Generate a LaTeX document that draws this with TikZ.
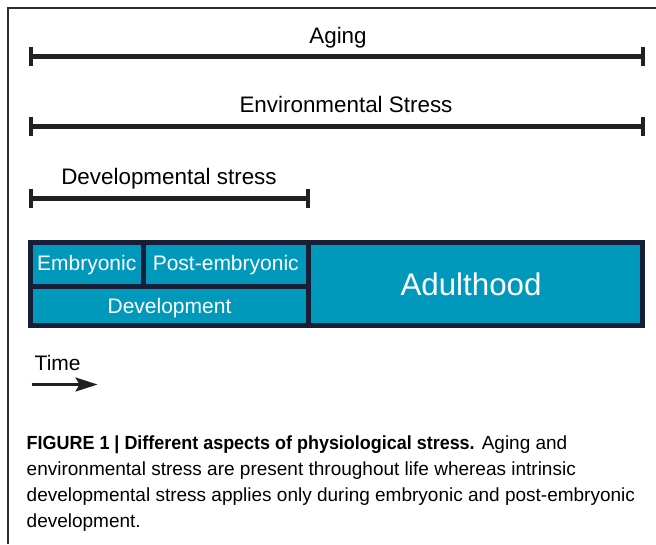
\documentclass[tikz,border=0pt]{standalone}
\usepackage{fontspec}
\setmainfont{Liberation Sans}
\usetikzlibrary{arrows.meta}

\definecolor{barink}{RGB}{35,31,32}
\definecolor{stageteal}{RGB}{0,153,188}
\definecolor{stagenavy}{RGB}{22,30,56}
\definecolor{frameink}{RGB}{45,45,45}

\begin{document}
\begin{tikzpicture}[x=1pt,y=-1pt,
  spanbar/.style={draw=barink, line width=5pt},
  spantick/.style={draw=barink, line width=4.5pt},
  spanlabel/.style={anchor=base, inner sep=0pt, text=black,
    font=\fontsize{22.4}{26}\selectfont},
  stagecell/.style={fill=stageteal, draw=none, inner sep=0pt, text=white,
    font=\fontsize{21}{24}\selectfont},
  captionline/.style={anchor=base west, inner sep=0pt, text=black,
    font=\fontsize{19}{26}\selectfont},
  framerule/.style={draw=frameink, line width=1.2pt}
]
% canvas
\useasboundingbox (0,0) rectangle (656,544);
\fill[white] (0,0) rectangle (656,544);
\draw[framerule] (8,544) -- (8,8) -- (656,8);

% spans over the life course
\coordinate (agingL) at (31,56.5);  \coordinate (agingR) at (643,56.5);
\coordinate (envL)   at (31,126.7); \coordinate (envR)   at (643,126.7);
\coordinate (devL)   at (31,198.5); \coordinate (devR)   at (308,198.5);
\foreach \s in {aging,env,dev}{
  \draw[spanbar] (\s L) -- (\s R);
  \draw[spantick] ([yshift=9.5pt]\s L) -- ([yshift=-9.5pt]\s L);
  \draw[spantick] ([yshift=9.5pt]\s R) -- ([yshift=-9.5pt]\s R);
}
\node[spanlabel] (aginglabel) at (338,43) {Aging};
\node[spanlabel] (envlabel) at (346,112) {Environmental Stress};
\node[spanlabel] (devlabel) at (169,184) {Developmental stress};

% life stages
\node[fill=stagenavy, inner sep=0pt, minimum width=617pt, minimum height=88pt]
  (stagebox) at (336.5,284) {};
\node[stagecell, minimum width=107.5pt, minimum height=38.5pt,
  text height=15.5pt, text depth=4pt] (embryonic) at (86.75,264.25) {Embryonic};
\node[stagecell, minimum width=160.5pt, minimum height=38.5pt,
  text height=15.5pt, text depth=4pt] (postembryonic) at (225.75,264.25) {Post-embryonic};
\node[stagecell, minimum width=273pt, minimum height=34.5pt,
  text height=17pt, text depth=2pt] (development) at (169.5,305.75) {Development};
\node[stagecell, minimum width=329pt, minimum height=78pt,
  text height=26pt, text depth=4pt, font=\fontsize{31.3}{36}\selectfont]
  (adulthood) at (475.5,284) {Adulthood\hspace*{9pt}};

% time direction
\node[anchor=base west, inner sep=0pt, font=\fontsize{21}{24}\selectfont]
  (timelabel) at (34.5,370) {Time};
\coordinate (timeL) at (31.5,384.5);
\coordinate (timeR) at (97.5,384.5);
\draw[draw=barink, line width=2.5pt,
  -{Stealth[length=22pt, width=14pt, inset=4pt]}] (timeL) -- (timeR);

% caption
\node[captionline] (cap1) at (26.5,449)
  {{\bfseries\addfontfeatures{FakeStretch=0.945}FIGURE 1 | Different aspects of physiological stress.} Aging and};
\node[captionline] (cap2) at (26.5,475)
  {environmental stress are present throughout life whereas intrinsic};
\node[captionline] (cap3) at (26.5,501)
  {developmental stress applies only during embryonic and post-embryonic};
\node[captionline] (cap4) at (26.5,527) {development.};
\end{tikzpicture}
\end{document}
